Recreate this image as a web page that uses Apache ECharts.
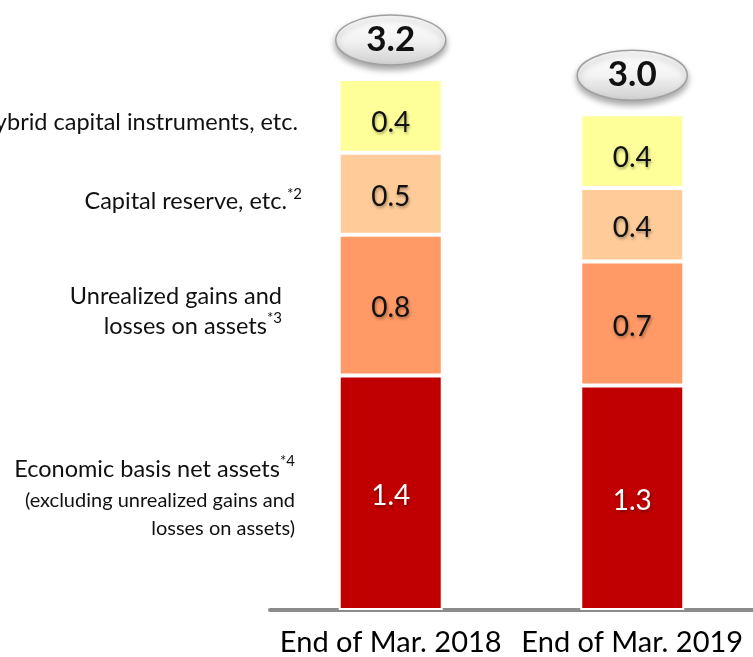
<!DOCTYPE html>
<html>
<head>
<meta charset="utf-8">
<script src="https://cdn.jsdelivr.net/npm/echarts@6/dist/echarts.min.js"></script>
<style>
  html, body { margin: 0; padding: 0; background: #ffffff; }
  #chart { width: 753px; height: 657px; }
</style>
</head>
<body>
<div id="chart"></div>
<script>
// Capital composition (trillion yen), bottom segment first
const categories = ['End of Mar. 2018', 'End of Mar. 2019'];
const economicNetAssets = [1.40, 1.34];
const unrealizedGains = [0.84, 0.74];
const capitalReserve = [0.49, 0.44];
const hybridCapital = [0.44, 0.44];

const segmentNames = [
  'Economic basis net assets',
  'Unrealized gains and losses on assets',
  'Capital reserve, etc.',
  'Hybrid capital instruments, etc.'
];
const segmentValues = [economicNetAssets, unrealizedGains, capitalReserve, hybridCapital];
const segmentColors = ['#C00000', '#FF9966', '#FFCC99', '#FFFF99'];
const labelColors = ['#ffffff', '#111111', '#111111', '#111111'];
const labelShift = [3, 3, 3, 7];

const totals = categories.map((_, i) =>
  segmentValues.reduce((s, arr) => s + arr[i], 0));

const FONT = 'Lato, "Open Sans", sans-serif';

const chart = echarts.init(document.getElementById('chart'), null, { renderer: 'canvas' });

const barSeries = segmentNames.map((name, k) => ({
  name: name,
  type: 'bar',
  stack: 'capital',
  barWidth: 104,
  data: segmentValues[k],
  itemStyle: { color: segmentColors[k], borderColor: '#ffffff', borderWidth: 2 },
  label: {
    show: true,
    position: 'inside',
    offset: [0, labelShift[k]],
    formatter: p => p.value.toFixed(1),
    fontFamily: FONT,
    fontSize: 28,
    color: labelColors[k],
    textShadowColor: 'rgba(0,0,0,0.35)',
    textShadowBlur: 3,
    textShadowOffsetX: 1,
    textShadowOffsetY: 2
  },
  emphasis: { disabled: true }
}));

const totalSeries = {
  type: 'custom',
  z: 5,
  data: totals.map((v, i) => [i, v]),
  renderItem: function (params, api) {
    const p = api.coord([api.value(0), api.value(1)]);
    const cx = p[0];
    const cy = p[1] - 39;
    return {
      type: 'group',
      children: [
        {
          type: 'ellipse',
          shape: { cx: cx, cy: cy, rx: 55, ry: 25 },
          style: {
            fill: new echarts.graphic.LinearGradient(0, 0, 0, 1, [
              { offset: 0, color: '#ffffff' },
              { offset: 0.5, color: '#f3f3f3' },
              { offset: 1, color: '#cfcfcf' }
            ]),
            stroke: '#a0a0a0',
            lineWidth: 1.5,
            shadowBlur: 6,
            shadowOffsetY: 4,
            shadowColor: 'rgba(0,0,0,0.35)'
          }
        },
        {
          type: 'text',
          style: {
            x: cx,
            y: cy,
            text: api.value(1).toFixed(1),
            align: 'center',
            verticalAlign: 'middle',
            font: 'bold 35px ' + FONT,
            fill: '#111111'
          }
        }
      ]
    };
  }
};

chart.setOption({
  animation: false,
  backgroundColor: '#ffffff',
  grid: { left: 270, width: 486, top: 12, bottom: 46 },
  xAxis: {
    type: 'category',
    data: categories,
    offset: 3,
    axisLine: { show: true, lineStyle: { color: '#8c8c8c', width: 4 } },
    axisTick: { show: false },
    axisLabel: {
      interval: 0,
      hideOverlap: false,
      fontFamily: FONT,
      fontSize: 29,
      color: '#000000',
      margin: 15
    }
  },
  yAxis: {
    type: 'value',
    min: 0,
    max: 3.57,
    show: false,
    splitLine: { show: false }
  },
  series: barSeries.concat([totalSeries])
});

// Segment names written beside the first bar, centred on its segments
function segmentCentre(k) {
  let base = 0;
  for (let j = 0; j < k; j++) base += segmentValues[j][0];
  const mid = base + segmentValues[k][0] / 2;
  return chart.convertToPixel({ xAxisIndex: 0, yAxisIndex: 0 }, [0, mid])[1];
}

const sup = { fontSize: 15, verticalAlign: 'top', lineHeight: 18, fontFamily: FONT, fill: '#111111' };

chart.setOption({
  graphic: [
    {
      type: 'text', x: 298, y: segmentCentre(3) + 7,
      style: {
        text: 'Hybrid capital instruments, etc.',
        font: '23.5px ' + FONT, fill: '#111111', align: 'right', verticalAlign: 'middle'
      }
    },
    {
      type: 'text', x: 302, y: segmentCentre(2) + 8,
      style: {
        text: 'Capital reserve, etc.{sup|*2}',
        font: '23.5px ' + FONT, fill: '#111111', align: 'right', verticalAlign: 'middle',
        lineHeight: 30, rich: { sup: sup }
      }
    },
    {
      type: 'text', x: 282, y: segmentCentre(1) + 6,
      style: {
        text: 'Unrealized gains and\nlosses on assets{sup|*3}',
        font: '23.5px ' + FONT, fill: '#111111', align: 'right', verticalAlign: 'middle',
        lineHeight: 30, rich: { sup: sup }
      }
    },
    {
      type: 'text', x: 295, y: segmentCentre(0) + 5,
      style: {
        text: 'Economic basis net assets{sup|*4}\n{sm|(excluding unrealized gains and}\n{sm|losses on assets)}',
        font: '23.5px ' + FONT, fill: '#111111', align: 'right', verticalAlign: 'middle',
        lineHeight: 33,
        rich: {
          sup: sup,
          sm: { fontSize: 20, fontFamily: FONT, lineHeight: 28, fill: '#111111' }
        }
      }
    }
  ]
});
</script>
</body>
</html>
